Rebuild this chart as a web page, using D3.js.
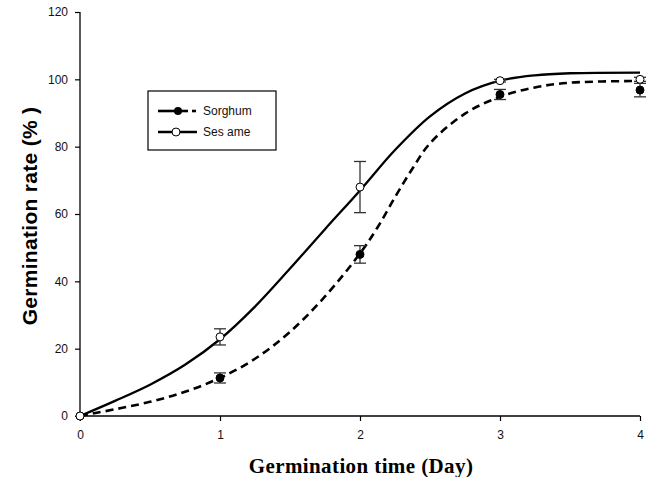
<!DOCTYPE html>
<html>
<head>
<meta charset="utf-8">
<script src="https://cdn.jsdelivr.net/npm/d3@7"></script>
<style>
  html, body { margin: 0; padding: 0; background: #fff; }
  svg { display: block; }
</style>
</head>
<body>
<svg id="chart" width="654" height="477"></svg>
<script>
// ---- data ----
const days = [0, 1, 2, 3, 4];
const sorghumMean = [0, 11.3, 48, 95.5, 96.8];
const sorghumErr  = [0, 1.5, 2.6, 1.5, 2.0];
const sesameMean  = [0, 23.5, 68, 99.6, 100];
const sesameErr   = [0, 2.4, 7.6, 0.4, 0.6];
// fitted curves
const sorghumFitX = [0, 0.25, 0.5, 0.75, 1, 1.25, 1.5, 1.75, 2, 2.125, 2.25, 2.375, 2.5, 2.75, 3, 3.25, 3.5, 4];
const sorghumFitY = [0, 2, 4.2, 7.2, 11.3, 17, 25, 35.5, 48.3, 56, 65, 73.5, 81, 89.8, 94.8, 97.6, 99, 99.5];
const sesameFitX  = [0, 0.25, 0.5, 0.75, 1, 1.25, 1.5, 1.75, 2, 2.25, 2.5, 2.75, 3, 3.25, 3.5, 4];
const sesameFitY  = [0, 4.5, 9.3, 15.2, 22.8, 32.5, 43.8, 55.5, 67, 79, 89, 95.8, 99.6, 101.2, 101.8, 102];
const xTicks = [0, 1, 2, 3, 4];
const yTicks = [0, 20, 40, 60, 80, 100, 120];
const seriesNames = ["Sorghum", "Ses ame"];

const svg = d3.select("#chart");
const x = d3.scaleLinear().domain([0, 4]).range([80, 640]);
const y = d3.scaleLinear().domain([0, 120]).range([416, 12]);

// axes
const xAxis = d3.axisBottom(x).tickValues(xTicks).tickFormat(d3.format("d")).tickSize(5).tickPadding(9);
const yAxis = d3.axisLeft(y).tickValues(yTicks).tickFormat(d3.format("d")).tickSize(5).tickPadding(7);

const gx = svg.append("g").attr("transform", "translate(0,416)").call(xAxis);
const gy = svg.append("g").attr("transform", "translate(80,0)").call(yAxis);
[gx, gy].forEach(g => {
  g.select(".domain").attr("stroke", "#000").attr("stroke-width", 1.3);
  g.selectAll(".tick line").attr("stroke", "#000").attr("stroke-width", 1.2);
  g.selectAll(".tick text").attr("font-family", "Liberation Sans, Arial, sans-serif")
    .attr("font-size", 12).attr("fill", "#111");
});
gx.select(".domain").attr("d", `M${x(0)},0H${x(4)}`);
gy.select(".domain").attr("d", `M0,${y(0)}V${y(120)}`);

// axis titles
svg.append("text")
  .attr("x", 361).attr("y", 473)
  .attr("text-anchor", "middle")
  .attr("font-family", "Liberation Serif, Times New Roman, serif")
  .attr("font-weight", "bold").attr("font-size", 21)
  .attr("letter-spacing", 0.4)
  .text("Germination time (Day)");
svg.append("text")
  .attr("transform", "translate(37,216) rotate(-90)")
  .attr("text-anchor", "middle")
  .attr("font-family", "Liberation Sans, Arial, sans-serif")
  .attr("font-weight", "bold").attr("font-size", 21)
  .attr("letter-spacing", 0.3)
  .text("Germination rate (% )");

// curves
const line = d3.line().x(d => x(d[0])).y(d => y(d[1])).curve(d3.curveCatmullRom.alpha(0.5));
const sorghumFit = sorghumFitX.map((v, i) => [v, sorghumFitY[i]]);
const sesameFit = sesameFitX.map((v, i) => [v, sesameFitY[i]]);

svg.append("path").datum(sesameFit).attr("d", line)
  .attr("fill", "none").attr("stroke", "#000").attr("stroke-width", 2.3);
svg.append("path").datum(sorghumFit).attr("d", line)
  .attr("fill", "none").attr("stroke", "#000").attr("stroke-width", 2.6)
  .attr("stroke-dasharray", "8,5");

// error bars
function errorBars(means, errs) {
  const g = svg.append("g").attr("stroke", "#333").attr("stroke-width", 1.3);
  days.forEach((d, i) => {
    if (errs[i] <= 0) return;
    const cx = x(d), y1 = y(means[i] - errs[i]), y2 = y(means[i] + errs[i]);
    g.append("line").attr("x1", cx).attr("x2", cx).attr("y1", y1).attr("y2", y2);
    g.append("line").attr("x1", cx - 6).attr("x2", cx + 6).attr("y1", y1).attr("y2", y1);
    g.append("line").attr("x1", cx - 6).attr("x2", cx + 6).attr("y1", y2).attr("y2", y2);
  });
}
errorBars(sorghumMean, sorghumErr);
errorBars(sesameMean, sesameErr);

// points
svg.append("g").selectAll("circle").data(days).join("circle")
  .attr("cx", d => x(d)).attr("cy", (d, i) => y(sorghumMean[i])).attr("r", 4)
  .attr("fill", "#000").attr("stroke", "#000").attr("stroke-width", 1);
svg.append("g").selectAll("circle").data(days).join("circle")
  .attr("cx", d => x(d)).attr("cy", (d, i) => y(sesameMean[i])).attr("r", 4)
  .attr("fill", "#fff").attr("stroke", "#000").attr("stroke-width", 1);

// legend
const lg = svg.append("g");
lg.append("rect").attr("x", 148).attr("y", 91).attr("width", 128).attr("height", 59)
  .attr("fill", "#fff").attr("stroke", "#000").attr("stroke-width", 1.2);
// sorghum entry
lg.append("line").attr("x1", 158).attr("x2", 188).attr("y1", 111).attr("y2", 111)
  .attr("stroke", "#000").attr("stroke-width", 2.6);
lg.append("line").attr("x1", 192).attr("x2", 196).attr("y1", 111).attr("y2", 111)
  .attr("stroke", "#000").attr("stroke-width", 2.6);
lg.append("circle").attr("cx", 178).attr("cy", 111).attr("r", 4).attr("fill", "#000");
// sesame entry
lg.append("line").attr("x1", 158).attr("x2", 197).attr("y1", 132).attr("y2", 132)
  .attr("stroke", "#000").attr("stroke-width", 2.3);
lg.append("circle").attr("cx", 176).attr("cy", 132).attr("r", 4)
  .attr("fill", "#fff").attr("stroke", "#000").attr("stroke-width", 1);
lg.selectAll("text.lab").data(seriesNames).join("text").attr("class", "lab")
  .attr("x", 203).attr("y", (d, i) => 115 + i * 21)
  .attr("font-family", "Liberation Sans, Arial, sans-serif").attr("font-size", 12)
  .attr("fill", "#111").text(d => d);
</script>
</body>
</html>
